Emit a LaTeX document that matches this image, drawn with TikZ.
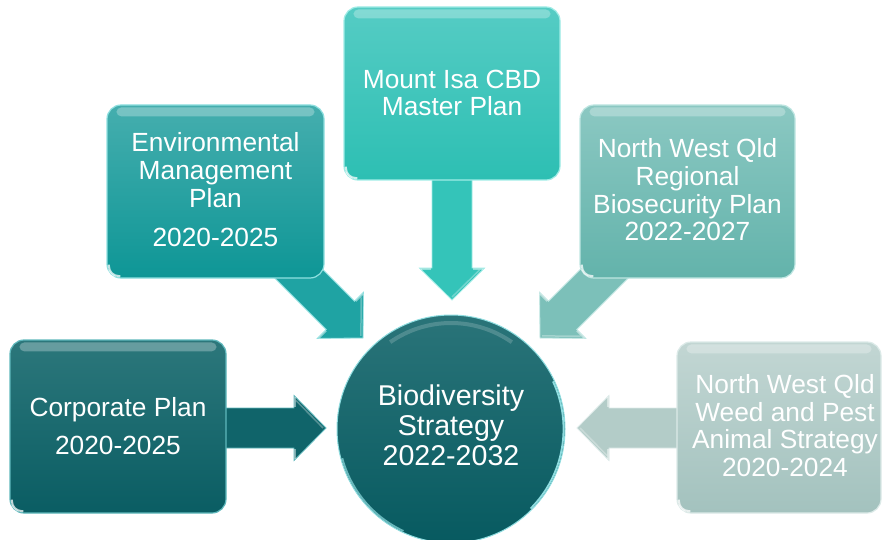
\documentclass[tikz,border=0pt]{standalone}
\usepackage{fontspec}
\setmainfont{Liberation Sans}

% panel colours: top of gradient, bottom of gradient, rim, arrow body
\definecolor{corpTop}{HTML}{2C777B}\definecolor{corpBot}{HTML}{0A5D63}
\definecolor{corpRim}{HTML}{5FB8BC}\definecolor{corpArr}{HTML}{10646A}
\definecolor{envTop}{HTML}{45AEAE}\definecolor{envBot}{HTML}{0E9696}
\definecolor{envRim}{HTML}{8FE0E0}\definecolor{envArr}{HTML}{1FA3A3}
\definecolor{mntTop}{HTML}{55CCC4}\definecolor{mntBot}{HTML}{2DBFB3}
\definecolor{mntRim}{HTML}{A0ECE6}\definecolor{mntArr}{HTML}{34C4B9}
\definecolor{bioTop}{HTML}{8BC8C2}\definecolor{bioBot}{HTML}{63B3AB}
\definecolor{bioRim}{HTML}{BFE6E2}\definecolor{bioArr}{HTML}{7CC0B9}
\definecolor{weedTop}{HTML}{C2D6D3}\definecolor{weedBot}{HTML}{A3C2BE}
\definecolor{weedRim}{HTML}{DCEAE8}\definecolor{weedArr}{HTML}{B3CCC8}
\definecolor{hubTop}{HTML}{2A7479}\definecolor{hubBot}{HTML}{075A60}
\definecolor{hubRim}{HTML}{8FDDE0}

\newcommand\panelfont{\fontsize{26.3}{27.7}\selectfont}
\newcommand\hubfont{\fontsize{28.6}{30}\selectfont}

\tikzset{
  panel/.style={rectangle, rounded corners=14pt, inner sep=0pt, line width=1.2pt},
  caption/.style={inner sep=0pt, align=center, text=white, font=\panelfont},
  gloss/.style={fill=white, opacity=.28, rounded corners=5pt},
  glint/.style={draw=white, opacity=.75, line width=2pt, rounded corners=10pt},
  % block arrow pointing along +x with its tip at the origin
  blockarrow/.pic={
    \path[pic actions] (0,0) -- (-32,32.5) -- (-32,20) -- (-200,20)
      -- (-200,-20) -- (-32,-20) -- (-32,-32.5) -- cycle;
    \draw[white, opacity=.45, line width=1.5pt]
      (-31,31) -- (-31,21) (-31,-21) -- (-31,-31);
    \draw[white, opacity=.3, line width=1.5pt] (-3,0) -- (-30,27.5);
  },
}

\begin{document}
\begin{tikzpicture}[x=1pt, y=1pt]
\useasboundingbox (0,0) rectangle (883,539);
\clip (0,0) rectangle (883,539);

% arrow tips around the hub
\coordinate (corptip) at (326,111);
\coordinate (envtip)  at (363,201);
\coordinate (mnttip)  at (452,239);
\coordinate (biotip)  at (540,201);
\coordinate (weedtip) at (577,111);

% block arrows (their tails run under the panels)
\pic[fill=corpArr, draw=corpRim, line width=.8pt]            at (corptip) {blockarrow};
\pic[fill=envArr,  draw=envRim,  line width=.8pt, rotate=-45]  at (envtip)  {blockarrow};
\pic[fill=mntArr,  draw=mntRim,  line width=.8pt, rotate=-90]  at (mnttip)  {blockarrow};
\pic[fill=bioArr,  draw=bioRim,  line width=.8pt, rotate=-135] at (biotip)  {blockarrow};
\pic[fill=weedArr, draw=weedRim, line width=.8pt, rotate=180]  at (weedtip) {blockarrow};

% panels
\node[panel, minimum width=216pt, minimum height=173pt,
      top color=corpTop, bottom color=corpBot, draw=corpRim] (corp) at (118,112.5) {};
\node[panel, minimum width=217pt, minimum height=173pt,
      top color=envTop, bottom color=envBot, draw=envRim] (env) at (215.5,347.5) {};
\node[panel, minimum width=216pt, minimum height=173pt,
      top color=mntTop, bottom color=mntBot, draw=mntRim] (mnt) at (452,445.5) {};
\node[panel, minimum width=215pt, minimum height=173pt,
      top color=bioTop, bottom color=bioBot, draw=bioRim] (bio) at (687.5,347.5) {};
\node[panel, minimum width=204pt, minimum height=171pt,
      top color=weedTop, bottom color=weedBot, draw=weedRim] (weed) at (779,111.5) {};

% glossy top bars and corner glints
\foreach \p in {corp,env,mnt,bio,weed}{
  \fill[gloss] ([xshift=10pt,yshift=-3pt]\p.north west)
       rectangle ([xshift=-10pt,yshift=-12pt]\p.north east);
  \draw[glint] ([xshift=2.5pt,yshift=14pt]\p.south west)
       -- ([xshift=2.5pt,yshift=2.5pt]\p.south west)
       -- ([xshift=14pt,yshift=2.5pt]\p.south west);
}

% hub
\node[circle, minimum size=228pt, inner sep=0pt, line width=1pt,
      top color=hubTop, bottom color=hubBot, draw=hubRim] (hub) at (451,110) {};
\draw[white, opacity=.18, line width=4pt]
  ([shift={(125:106)}]hub.center) arc[start angle=125, end angle=55, radius=106];
\draw[hubRim, line width=1.8pt]
  ([shift={(-45:112.5)}]hub.center) arc[start angle=-45, end angle=25, radius=112.5];
\draw[hubRim, opacity=.7, line width=1.8pt]
  ([shift={(195:112.5)}]hub.center) arc[start angle=195, end angle=245, radius=112.5];

% captions
\node[caption] (corptext) at (118,113) {Corporate Plan\\[11pt]2020-2025};
\node[caption] (envtext) at (215.5,349) {Environmental\\Management\\Plan\\[12pt]2020-2025};
\node[caption] (mnttext) at (452,446) {Mount Isa CBD\\Master Plan};
\node[caption] (biotext) at (687.5,349) {North West Qld\\Regional\\Biosecurity Plan\\2022-2027};
\node[caption] (weedtext) at (785,113.5) {North West Qld\\Weed and Pest\\Animal Strategy\\2020-2024};
\node[caption, font=\hubfont] (hubtext) at (451,114) {Biodiversity\\Strategy\\2022-2032};
\end{tikzpicture}
\end{document}
